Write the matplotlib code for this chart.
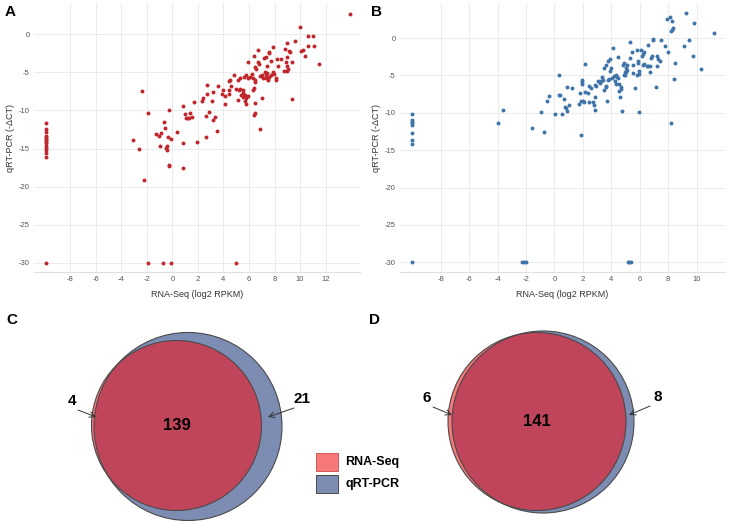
import matplotlib

matplotlib.use("Agg")
import matplotlib.pyplot as plt
from matplotlib.patches import Circle, Rectangle

plt.rcParams["font.family"] = ["Liberation Sans", "DejaVu Sans"]
plt.rcParams["axes.unicode_minus"] = False

# panel A: RNA-Seq vs qRT-PCR (red)
a_x = [
    -9.9, -9.9, -9.9, -9.9, -9.9, -9.9, -9.9, -9.9, -9.9, -9.9, -9.9, -9.9, -9.9, -9.9, -9.9,
    -1.95, -0.76, -0.13, 4.96,
    13.9, 9.97, 10.6, 11.0, 9.6, 9.0, 10.6, 11.1, 7.9, 8.8, 10.05, 10.2, 9.15, 9.25, 6.7,
    7.55, 7.6, 10.4, 6.4, 7.35, 7.15, 8.2, 8.5, 9.0, 7.7, 5.95, 8.9, 9.35, 11.45, 6.7, 6.8,
    6.5, 6.55, 7.4, 8.25, 8.95, 9.05, 9.0, 8.75, 7.25, 7.4, 7.85, 7.75, 7.95, 7.0, 7.35,
    7.6, 6.25, 5.75, 4.8, 6.1, 6.3, 5.9, 5.6, 5.3, 6.9, 7.1, 8.15, 8.1, 7.5, 7.3, 5.1, 4.5,
    4.4, 6.5, 6.45, 2.7, 3.55, 4.6, 6.4, 6.3, 4.0, 4.4, 4.95, 5.2, 5.3, 5.5, 2.7, 3.2, 3.9,
    4.4, 5.5, 5.4, 5.7, 5.5, 5.8, 5.9, 7.0, 2.4, 4.1, 9.4, 2.3, 5.1, 1.7, 3.1, 5.65, 5.75,
    4.1, 6.5, 0.8, -0.3, -1.9, 6.45, 6.4, 1.4, 0.95, 2.9, 2.6, 1.1, 1.2, 1.3, 1.55, 3.3,
    3.2, -0.7, -0.6, 3.5, 6.9, 0.35, -0.9, -1.3, -1.05, -0.35, -0.13, 2.6, -3.1, 1.95, 0.8,
    -0.95, -0.45, -0.5, -0.45, -2.6, -0.25, -0.25, 0.85, -2.2, -2.4,
]
a_y = [
    -11.7, -12.5, -12.8, -13.3, -13.5, -13.7, -13.9, -14.1, -14.3, -14.6, -14.9, -15.2, -15.6, -16.1, -30,
    -30, -30, -30, -30,
    2.7, 0.9, -0.2, -0.2, -0.9, -1.2, -1.5, -1.5, -1.7, -1.9, -2.2, -2.1, -2.2, -2.3, -2.1,
    -2.3, -2.5, -2.8, -2.9, -3.0, -3.1, -3.3, -3.2, -3.0, -3.5, -3.6, -3.6, -3.7, -3.85, -3.7, -3.9,
    -4.3, -4.5, -4.2, -4.2, -4.2, -4.6, -4.8, -4.8, -4.9, -5.1, -5.0, -5.3, -5.2, -5.3, -5.4,
    -5.6, -5.2, -5.3, -5.3, -5.6, -5.7, -5.7, -5.6, -5.7, -5.5, -5.7, -5.7, -6.0, -6.0, -5.8, -6.0, -6.0,
    -6.2, -6.0, -6.3, -6.6, -6.8, -6.8, -7.0, -7.3, -7.3, -7.3, -7.2, -7.35, -7.2, -7.3, -7.8, -7.6, -7.8,
    -7.8, -7.7, -8.0, -8.0, -8.3, -8.4, -8.1, -8.4, -8.4, -8.1, -8.5, -8.7, -8.6, -8.9, -8.8, -8.8, -9.2,
    -9.1, -9.0, -9.4, -9.9, -10.3, -10.3, -10.6, -10.4, -10.5, -10.2, -10.7, -11.0, -11.0, -11.0, -10.9, -10.9,
    -11.2, -11.5, -12.3, -12.7, -12.4, -12.8, -12.9, -13.1, -13.4, -13.5, -13.75, -13.5, -13.9, -14.1, -14.3,
    -14.6, -14.7, -14.9, -15.2, -15.0, -17.1, -17.3, -17.5, -19.1, -7.5,
]

# panel B: RNA-Seq vs qRT-PCR (blue)
b_x = [
    -10.0, -10.0, -10.0, -10.0, -10.0, -10.0, -10.0, -10.0, -10.0,
    -2.3, -2.15, -2.0, 5.15, 5.25, 5.4,
    -3.97, -3.6, -1.6, -0.77, -0.94, 0.07, 0.54, -0.54, -0.35, 0.3, 0.4, 0.35, 0.66, 0.85,
    1.22, 0.75, 0.8, 1.0, 0.9, 1.74, 1.9, 1.95, 1.95, 1.97, 1.83, 2.0, 1.9, 2.05, 2.16, 2.16,
    2.35, 2.4, 2.45, 2.6, 2.7, 2.78, 2.84, 2.84, 2.85, 2.95, 3.07, 3.2, 3.24, 3.35, 3.45,
    3.47, 3.47, 3.6, 3.65, 3.66, 3.7, 3.76, 3.85, 3.8, 3.94, 4.0, 3.94, 4.03, 4.1, 4.2,
    4.25, 4.3, 4.4, 4.35, 4.45, 4.53, 4.55, 4.58, 4.5, 4.7, 4.7, 4.74, 4.85, 4.87, 5.0,
    4.95, 4.98, 4.88, 5.05, 5.1, 5.1, 5.3, 5.3, 5.47, 5.5, 5.56, 5.7, 5.82, 5.85, 5.87,
    5.92, 5.96, 5.8, 5.96, 6.1, 6.17, 6.2, 6.22, 6.27, 6.3, 6.5, 6.6, 6.57, 6.7, 6.75,
    6.8, 6.85, 6.9, 6.92, 7.14, 7.2, 7.23, 7.28, 7.4, 7.5, 7.8, 7.98, 8.1, 7.9, 8.3,
    8.26, 8.32, 8.2, 8.2, 8.4, 8.5, 9.1, 9.25, 9.44, 9.74, 9.83, 10.3, 11.2,
]
b_y = [
    -10.15, -11.0, -11.2, -11.4, -11.6, -12.7, -13.7, -14.15, -30,
    -30, -30, -30, -30, -30, -30,
    -11.3, -9.6, -12.0, -12.6, -9.9, -10.1, -10.2, -8.4, -7.8, -7.65, -7.6, -4.9, -8.2, -6.6,
    -6.7, -9.2, -9.35, -9.0, -9.7, -8.85, -13.0, -5.6, -5.9, -6.1, -7.3, -8.4, -8.35, -8.5, -3.4, -7.2,
    -7.3, -8.6, -6.45, -6.7, -8.5, -8.9, -9.6, -7.9, -6.3, -6.4, -5.7, -6.0, -5.7, -5.25, -5.6,
    -7.0, -4.05, -3.65, -6.4, -6.55, -8.45, -5.65, -5.5, -3.1, -2.8, -4.0, -4.35, -5.4, -1.3, -5.1,
    -5.75, -6.1, -5.2, -5.0, -5.35, -7.1, -6.1, -7.9, -2.5, -6.5, -6.85, -9.8, -3.6, -3.35, -4.05,
    -4.5, -5.0, -4.95, -4.6, -3.6, -4.2, -0.55, -2.7, -1.8, -4.7, -3.65, -6.7, -1.6, -3.0, -3.3,
    -4.4, -4.85, -4.95, -9.9, -1.6, -2.4, -2.1, -3.6, -3.4, -1.9, -3.7, -3.7, -0.9, -3.7, -4.6,
    -2.6, -2.4, -0.3, -0.13, -6.5, -3.7, -2.4, -2.75, -3.0, -0.2, -1.0, -1.9, 2.8, 2.5, 2.3,
    1.15, 1.3, 0.95, -11.3, -5.5, -3.3, -1.0, 3.3, -0.3, -2.4, 2.0, -4.1, 0.7,
]

x_ticks = [-8, -6, -4, -2, 0, 2, 4, 6, 8, 10, 12]
y_ticks = [0, -5, -10, -15, -20, -25, -30]

venn_c_counts = [4, 139, 21]
venn_d_counts = [6, 141, 8]
legend_labels = ["RNA-Seq", "qRT-PCR"]

RED_DOT = "#c0272d"
BLUE_DOT = "#3f74a8"
SALMON = "#f77878"
SLATE = "#7d8cb2"
OVERLAP = "#c0455a"
EDGE = "#4a4a4a"

W, H = 730, 526


def scatter_panel(fig, rect, xs, ys, color, xlim, ylim, ticks_x):
    ax = fig.add_axes(rect)
    ax.scatter(xs, ys, s=8, color=color, linewidths=0, zorder=3)
    ax.set_xlim(*xlim)
    ax.set_ylim(*ylim)
    ax.set_xticks(ticks_x)
    ax.set_yticks(y_ticks)
    ax.grid(True, color="#ebebeb", linewidth=0.7)
    ax.set_axisbelow(True)
    for side in ["top", "right", "left"]:
        ax.spines[side].set_visible(False)
    ax.spines["bottom"].set_color("#e0e0e0")
    ax.tick_params(length=0, labelsize=5.5, labelcolor="#555555", pad=3)
    ax.set_xlabel("RNA-Seq (log2 RPKM)", fontsize=6.5, color="#333333", labelpad=5)
    ax.set_ylabel("qRT-PCR (-ΔCT)", fontsize=6.5, color="#333333", labelpad=3)
    return ax


def venn(ax, red_c, red_r, blue_c, blue_r, counts, left_lbl, left_tip, right_lbl, right_tip):
    blue = Circle(blue_c, blue_r, facecolor=SLATE, edgecolor="none", zorder=1)
    ax.add_patch(blue)
    ax.add_patch(Circle(red_c, red_r, facecolor=SALMON, edgecolor="none", zorder=2))
    inter = Circle(red_c, red_r, facecolor=OVERLAP, edgecolor="none", zorder=3)
    ax.add_patch(inter)
    inter.set_clip_path(blue)
    ax.add_patch(Circle(blue_c, blue_r, facecolor="none", edgecolor=EDGE, lw=0.8, zorder=4))
    ax.add_patch(Circle(red_c, red_r, facecolor="none", edgecolor=EDGE, lw=0.8, zorder=4))

    ax.text(red_c[0], red_c[1], str(counts[1]), fontsize=12, fontweight="bold",
            ha="center", va="center", zorder=5)
    arrow = dict(arrowstyle="->", color="#333333", lw=0.7, shrinkA=0, shrinkB=0)
    ax.text(left_lbl[0], left_lbl[1], str(counts[0]), fontsize=11, fontweight="bold",
            ha="center", va="center")
    ax.annotate("", xy=left_tip, xytext=(left_lbl[0] + 6, left_lbl[1] + 9),
                arrowprops=arrow, zorder=6)
    ax.text(right_lbl[0], right_lbl[1], str(counts[2]), fontsize=11, fontweight="bold",
            ha="center", va="center")
    ax.annotate("", xy=right_tip, xytext=(right_lbl[0] - 8, right_lbl[1] + 9),
                arrowprops=arrow, zorder=6)


fig = plt.figure(figsize=(W / 100, H / 100), dpi=100)

canvas = fig.add_axes([0, 0, 1, 1])
canvas.set_xlim(0, W)
canvas.set_ylim(H, 0)
canvas.axis("off")

scatter_panel(fig, [34 / W, 1 - 272 / H, 326 / W, 269 / H], a_x, a_y, RED_DOT,
              (-10.85, 14.7), (-31.2, 4.1), x_ticks)
scatter_panel(fig, [400 / W, 1 - 272 / H, 325 / W, 269 / H], b_x, b_y, BLUE_DOT,
              (-10.87, 12.0), (-31.3, 4.7), x_ticks[:-1])

for letter, x, y in [("A", 10, 12), ("B", 376, 12), ("C", 12, 320), ("D", 375, 320)]:
    canvas.text(x, y, letter, fontsize=11, fontweight="bold", ha="center", va="center")

venn(canvas, (176.5, 425.5), 85, (188, 426.5), 94, venn_c_counts,
     (72, 401), (96, 417), (302, 399), (268, 417))
venn(canvas, (537, 421.5), 89, (543, 422), 91, venn_d_counts,
     (427, 398), (452, 415), (658, 397), (629, 415))

for i, (label, fc, ec) in enumerate(zip(legend_labels, [SALMON, SLATE], ["#d05a5a", EDGE])):
    top = 453 + i * 22
    canvas.add_patch(Rectangle((316, top), 22, 18, facecolor=fc, edgecolor=ec, lw=0.7))
    canvas.text(345, top + 9, label, fontsize=9, fontweight="bold", ha="left", va="center")

fig.savefig("out.png", dpi=100)
